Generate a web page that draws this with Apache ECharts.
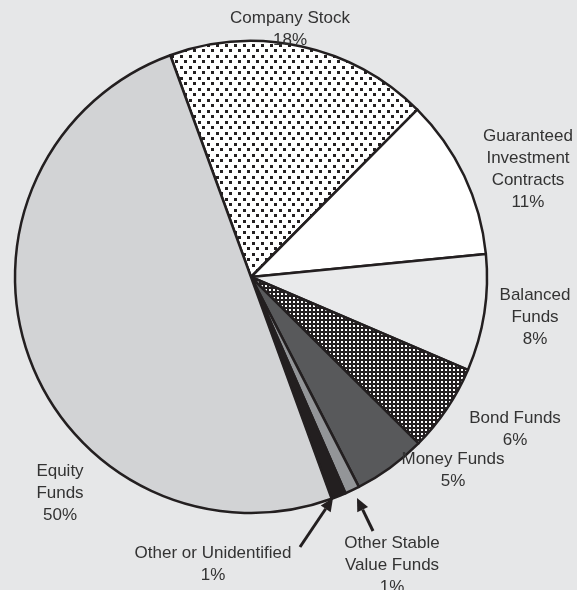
<!DOCTYPE html>
<html>
<head>
<meta charset="utf-8">
<script src="https://cdn.jsdelivr.net/npm/echarts@6/dist/echarts.min.js"></script>
<style>
  html, body { margin: 0; padding: 0; background: #e6e7e8; }
  #main { width: 577px; height: 590px; }
</style>
</head>
<body>
<div id="main"></div>
<script>
// data
var names = [
  "Company Stock",
  "Guaranteed\nInvestment\nContracts",
  "Balanced\nFunds",
  "Bond Funds",
  "Money Funds",
  "Other Stable\nValue Funds",
  "Other or Unidentified",
  "Equity\nFunds"
];
var values = [18, 11, 8, 6, 5, 1, 1, 50];

// label spots (text block centres)
var labelPos = [
  [290, 29], [528, 169], [535, 317], [515, 429],
  [453, 470], [392, 565], [213, 564], [60, 493]
];

// patterns
function dotPattern() {
  var c = document.createElement("canvas");
  c.width = 9; c.height = 11;
  var g = c.getContext("2d");
  g.fillStyle = "#ffffff"; g.fillRect(0, 0, 9, 11);
  g.fillStyle = "#231f20";
  g.fillRect(0, 0, 3, 3);
  g.fillRect(4, 5, 3, 3);
  return c;
}
function checkPattern() {
  var c = document.createElement("canvas");
  c.width = 4; c.height = 4;
  var g = c.getContext("2d");
  g.fillStyle = "#231f20"; g.fillRect(0, 0, 4, 4);
  g.fillStyle = "#ffffff"; g.fillRect(1, 1, 2, 2);
  return c;
}

var fills = [
  { image: dotPattern(), repeat: "repeat" },
  "#ffffff",
  "#e9eaeb",
  { image: checkPattern(), repeat: "repeat" },
  "#58595b",
  "#939598",
  "#231f20",
  "#d2d3d5"
];

var font = "'Liberation Sans', Arial, sans-serif";

var chart = echarts.init(document.getElementById("main"));

// small arrow helper for the two 1% slices
function arrow(x1, y1, x2, y2) {
  var ang = Math.atan2(y2 - y1, x2 - x1);
  var len = 13, w = 6;
  var bx = x2 - len * Math.cos(ang), by = y2 - len * Math.sin(ang);
  var px = -Math.sin(ang) * w, py = Math.cos(ang) * w;
  return [
    { type: "line", shape: { x1: x1, y1: y1, x2: bx, y2: by },
      style: { stroke: "#231f20", lineWidth: 3 } },
    { type: "polygon",
      shape: { points: [[x2, y2], [bx + px, by + py], [bx - px, by - py]] },
      style: { fill: "#231f20" } }
  ];
}

var option = {
  backgroundColor: "#e6e7e8",
  animation: false,
  graphic: [].concat(arrow(300, 547, 333, 498), arrow(373, 531, 357, 498)),
  series: [{
    type: "pie",
    center: [251, 277],
    radius: [0, 236],
    startAngle: 110,
    clockwise: true,
    avoidLabelOverlap: false,
    data: names.map(function (n, i) {
      return { name: n, value: values[i], itemStyle: { color: fills[i] } };
    }),
    itemStyle: { borderColor: "#231f20", borderWidth: 2.5 },
    emphasis: { disabled: true },
    label: {
      show: true,
      formatter: "{b}\n{c}%",
      fontFamily: font,
      fontSize: 17,
      lineHeight: 22,
      color: "#333333",
      align: "center"
    },
    labelLine: { show: false },
    labelLayout: function (p) {
      var pos = labelPos[p.dataIndex];
      return { x: pos[0], y: pos[1], align: "center", verticalAlign: "middle", hideOverlap: false };
    }
  }]
};
chart.setOption(option);
</script>
</body>
</html>
